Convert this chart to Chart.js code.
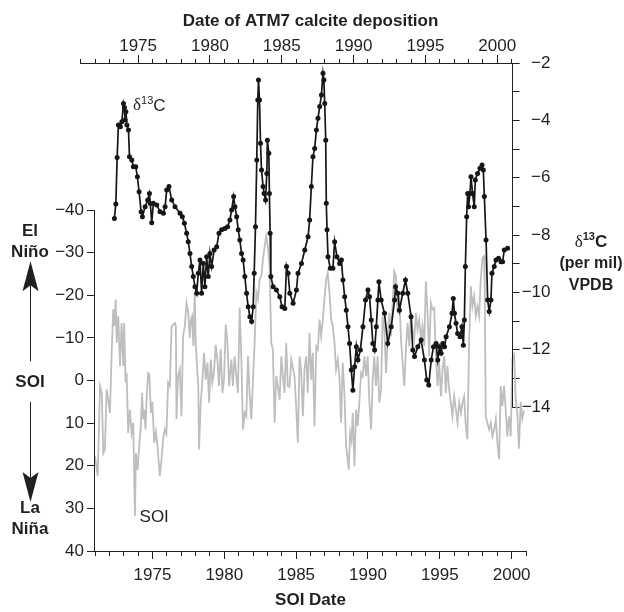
<!DOCTYPE html>
<html lang="en">
<head>
<meta charset="utf-8">
<title>ATM7 d13C and SOI</title>
<script src="https://cdn.jsdelivr.net/npm/chart.js@4.4.1/dist/chart.umd.min.js"></script>
<style>
  * { margin: 0; padding: 0; box-sizing: border-box; }
  body { width: 624px; height: 612px; background: #fff; overflow: hidden; }
  #wrap { position: relative; width: 624px; height: 612px; }
</style>
</head>
<body>
<div id="wrap"><canvas id="chart" width="624" height="612"></canvas></div>
<script>
// d13C of ATM7 calcite, against date of deposition (top axis, right scale)
const d13cYear = [
  1973.35, 1973.45, 1973.54, 1973.63, 1973.77, 1973.87, 1973.98, 1974.05, 1974.10, 1974.15,
  1974.22, 1974.33, 1974.40, 1974.56, 1974.67, 1974.84, 1974.95, 1975.07, 1975.21, 1975.30,
  1975.49, 1975.67, 1975.79, 1975.85, 1975.95, 1976.06, 1976.30, 1976.53, 1976.76, 1976.88,
  1976.99, 1977.15, 1977.34, 1977.57, 1977.92, 1978.08, 1978.22, 1978.38, 1978.49, 1978.61,
  1978.73, 1978.84, 1978.96, 1979.08, 1979.19, 1979.31, 1979.42, 1979.54, 1979.65, 1979.77,
  1979.88, 1980.00, 1980.12, 1980.29, 1980.47, 1980.63, 1980.81, 1981.04, 1981.23, 1981.39,
  1981.51, 1981.65, 1981.74, 1981.86, 1981.97, 1982.08, 1982.20, 1982.31, 1982.43, 1982.55,
  1982.66, 1982.78, 1982.90, 1983.01, 1983.08, 1983.17, 1983.26, 1983.33, 1983.38, 1983.45,
  1983.52, 1983.59, 1983.70, 1983.77, 1983.87, 1983.96, 1984.00, 1984.10, 1984.14, 1984.19,
  1984.24, 1984.40, 1984.63, 1984.86, 1985.02, 1985.21, 1985.33, 1985.44, 1985.56, 1985.79,
  1986.02, 1986.13, 1986.37, 1986.60, 1986.83, 1986.94, 1987.06, 1987.17, 1987.29, 1987.41,
  1987.52, 1987.64, 1987.76, 1987.87, 1987.93, 1987.99, 1988.06, 1988.10, 1988.15, 1988.22,
  1988.38, 1988.56, 1988.68, 1988.84, 1989.03, 1989.15, 1989.26, 1989.38, 1989.49, 1989.61,
  1989.72, 1989.84, 1989.95, 1990.07, 1990.19, 1990.30, 1990.47, 1990.65, 1990.83, 1991.00,
  1991.11, 1991.23, 1991.34, 1991.46, 1991.58, 1991.69, 1991.76, 1991.92, 1992.15, 1992.38,
  1992.62, 1992.85, 1992.92, 1993.08, 1993.19, 1993.42, 1993.61, 1993.77, 1994.00, 1994.12,
  1994.24, 1994.47, 1994.70, 1994.93, 1995.09, 1995.23, 1995.40, 1995.56, 1995.74, 1995.86,
  1995.97, 1996.09, 1996.21, 1996.33, 1996.44, 1996.67, 1996.85, 1996.94, 1997.02, 1997.13,
  1997.24, 1997.41, 1997.54, 1997.64, 1997.71, 1997.78, 1997.87, 1997.94, 1998.00, 1998.10,
  1998.17, 1998.28, 1998.40, 1998.47, 1998.63, 1998.80, 1998.94, 1999.03, 1999.10, 1999.22,
  1999.33, 1999.44, 1999.56, 1999.63, 1999.79, 1999.91, 2000.09, 2000.26, 2000.37, 2000.49,
  2000.72
];
const d13cValue = [
  -7.42, -6.92, -5.30, -4.16, -4.22, -4.05, -3.41, -3.55, -3.99, -3.70,
  -4.16, -4.34, -5.27, -5.38, -5.62, -5.62, -5.97, -6.49, -7.19, -7.36,
  -7.01, -6.78, -6.55, -6.90, -7.57, -6.89, -6.95, -7.19, -7.24, -7.01,
  -6.43, -6.31, -6.78, -7.01, -7.24, -7.36, -7.59, -7.94, -8.23, -8.64,
  -9.10, -9.45, -9.80, -10.03, -9.33, -8.87, -10.03, -8.99, -9.80, -8.76,
  -9.45, -8.64, -9.10, -8.52, -8.41, -7.94, -7.82, -7.77, -7.71, -7.48,
  -7.13, -6.66, -7.01, -7.36, -7.82, -8.17, -8.64, -8.87, -9.45, -10.03,
  -10.50, -10.85, -11.02, -10.50, -9.33, -7.71, -5.38, -3.29, -2.59, -3.29,
  -4.80, -5.73, -6.31, -6.55, -6.78, -5.85, -4.69, -5.15, -6.55, -7.94,
  -9.45, -9.80, -9.92, -10.15, -10.50, -10.56, -9.10, -9.33, -10.03, -10.38,
  -9.92, -9.33, -8.99, -8.52, -8.06, -7.48, -6.31, -5.27, -4.98, -4.34,
  -3.93, -3.52, -3.12, -2.36, -2.59, -3.41, -4.69, -6.89, -7.82, -8.76,
  -9.16, -9.16, -8.23, -8.76, -8.99, -8.87, -9.57, -10.15, -10.62, -11.20,
  -11.78, -12.71, -13.41, -12.59, -11.90, -12.36, -12.01, -11.20, -10.27, -9.92,
  -10.15, -10.96, -11.78, -12.01, -11.20, -10.27, -9.63, -10.27, -10.73, -11.78,
  -11.20, -10.27, -9.80, -10.03, -10.62, -10.03, -9.57, -10.03, -10.85, -12.01,
  -12.24, -11.90, -11.66, -12.36, -13.06, -13.23, -12.36, -11.90, -11.78, -12.36,
  -11.90, -12.12, -11.78, -11.90, -11.55, -11.20, -10.73, -10.21, -10.73, -11.08,
  -11.43, -11.55, -11.20, -11.84, -10.96, -9.10, -7.36, -6.55, -7.01, -6.55,
  -5.97, -6.55, -7.01, -6.08, -5.85, -5.67, -5.56, -5.73, -6.66, -8.17,
  -10.27, -10.67, -10.27, -9.33, -9.10, -8.87, -8.81, -8.93, -8.93, -8.52,
  -8.46
];

// Southern Oscillation Index, against SOI date (bottom axis, left scale)
const soiYear = [
  1971.00, 1971.19, 1971.35, 1971.47, 1971.58, 1971.69, 1971.81, 1971.92, 1972.04, 1972.16,
  1972.27, 1972.34, 1972.44, 1972.51, 1972.62, 1972.74, 1972.85, 1972.97, 1973.03, 1973.13,
  1973.20, 1973.31, 1973.43, 1973.55, 1973.66, 1973.78, 1973.85, 1973.97, 1974.06, 1974.19,
  1974.28, 1974.35, 1974.42, 1974.52, 1974.59, 1974.70, 1974.78, 1974.89, 1974.99, 1975.12,
  1975.24, 1975.35, 1975.51, 1975.63, 1975.74, 1975.86, 1975.97, 1976.09, 1976.21, 1976.33,
  1976.44, 1976.56, 1976.63, 1976.67, 1976.78, 1976.90, 1977.02, 1977.13, 1977.25, 1977.37,
  1977.48, 1977.60, 1977.67, 1977.76, 1977.85, 1977.94, 1978.01, 1978.10, 1978.19, 1978.24,
  1978.36, 1978.45, 1978.59, 1978.71, 1978.83, 1978.94, 1979.06, 1979.17, 1979.28, 1979.40,
  1979.52, 1979.63, 1979.75, 1979.87, 1979.98, 1980.10, 1980.22, 1980.33, 1980.49, 1980.60,
  1980.72, 1980.84, 1980.95, 1981.07, 1981.19, 1981.30, 1981.42, 1981.53, 1981.65, 1981.76,
  1981.88, 1981.99, 1982.11, 1982.23, 1982.34, 1982.46, 1982.58, 1982.69, 1982.81, 1982.92,
  1983.03, 1983.15, 1983.27, 1983.38, 1983.50, 1983.62, 1983.73, 1983.85, 1983.97, 1984.08,
  1984.19, 1984.31, 1984.42, 1984.54, 1984.66, 1984.77, 1984.89, 1985.01, 1985.12, 1985.24,
  1985.35, 1985.47, 1985.58, 1985.70, 1985.81, 1985.93, 1986.05, 1986.16, 1986.28, 1986.40,
  1986.51, 1986.63, 1986.74, 1986.85, 1986.97, 1987.09, 1987.20, 1987.32, 1987.44, 1987.55,
  1987.67, 1987.78, 1987.90, 1988.01, 1988.13, 1988.24, 1988.36, 1988.48, 1988.59, 1988.66,
  1988.76, 1988.85, 1988.94, 1989.06, 1989.17, 1989.28, 1989.40, 1989.52, 1989.63, 1989.75,
  1989.87, 1989.98, 1990.10, 1990.22, 1990.33, 1990.44, 1990.56, 1990.67, 1990.79, 1990.91,
  1991.02, 1991.14, 1991.26, 1991.37, 1991.49, 1991.60, 1991.72, 1991.83, 1991.95, 1992.06,
  1992.18, 1992.30, 1992.41, 1992.53, 1992.65, 1992.76, 1992.88, 1992.99, 1993.10, 1993.22,
  1993.34, 1993.45, 1993.57, 1993.69, 1993.80, 1993.92, 1994.03, 1994.15, 1994.26, 1994.38,
  1994.49, 1994.61, 1994.73, 1994.84, 1994.96, 1995.08, 1995.19, 1995.31, 1995.42, 1995.53,
  1995.65, 1995.77, 1995.88, 1996.00, 1996.12, 1996.23, 1996.35, 1996.47, 1996.58, 1996.69,
  1996.81, 1996.92, 1997.04, 1997.16, 1997.27, 1997.39, 1997.51, 1997.62, 1997.74, 1997.85,
  1997.97, 1998.08, 1998.13, 1998.20, 1998.31, 1998.43, 1998.55, 1998.66, 1998.78, 1998.90,
  1999.01, 1999.13, 1999.24, 1999.35, 1999.47, 1999.59, 1999.70, 1999.82, 1999.94, 2000.05,
  2000.17, 2000.28, 2000.40, 2000.51, 2000.63, 2000.74, 2000.86
];
const soiValue = [
  17.8, 22.4, 1.3, 3.0, 17.0, 16.0, 2.1, 4.5, 7.6, -6.5,
  -16.7, -12.8, -19.0, -8.8, -15.1, -3.4, -13.5, -3.4, -13.5, 0.5,
  -1.8, 12.3, 6.8, 12.3, 9.9, 31.8, 17.0, 20.9, 16.2, 10.7,
  2.9, 9.1, 6.8, 11.5, 4.5, -1.8, -1.5, 7.6, 5.0, 14.6,
  12.0, 15.4, 22.4, 18.5, 13.8, 11.5, 12.5, 0.5, 1.3, -12.7,
  -13.1, -13.5, -12.7, 9.1, -1.0, -2.6, 8.4, -10.4, -12.7, -18.2,
  -16.2, -10.0, -14.3, -15.1, -8.1, -20.6, -8.8, -3.4, 1.3, 16.2,
  5.2, 1.3, -6.5, -0.2, -4.2, 5.2, -4.9, 0.5, -1.8, -8.4,
  -4.9, 1.3, -7.3, 2.9, -0.2, -13.1, -8.8, 1.3, -4.9, 1.3,
  -5.7, -1.0, 2.9, -17.1, -4.9, 11.5, 7.6, 8.4, -5.7, 2.9,
  9.1, 0.5, -8.8, -20.6, -19.0, -23.7, -24.5, -28.4, -31.5, -33.9,
  -31.5, -27.0, -8.8, -7.3, 9.9, -1.0, 1.3, 4.5, -5.7, -1.0,
  2.9, -8.8, 1.3, 1.5, -4.9, -3.0, -1.0, 6.8, 14.6, -5.7,
  -2.0, 8.4, -2.6, -5.7, 2.9, -11.2, -0.2, -6.5, 10.7, -8.0,
  -7.3, -14.3, -10.4, -13.9, -19.0, -23.7, -25.3, -20.6, -14.3, -12.7,
  -8.8, -2.6, -4.9, -1.0, 9.9, -4.2, 2.9, 15.4, 18.5, 20.9,
  12.3, 14.0, 7.6, 20.1, 6.8, 10.7, 5.2, -1.8, -1.0, -5.7,
  -1.0, -5.7, 5.2, 11.5, -0.2, -5.7, 1.3, -5.7, 5.2, 2.1,
  -15.1, -11.9, -1.8, -9.6, -15.9, -10.4, -18.2, -25.6, -24.5, -15.9,
  -19.8, -9.6, -4.2, 1.3, -8.0, -13.5, -8.0, -15.9, -12.0, -9.6,
  -15.9, -12.0, -14.3, -9.6, -12.7, -8.0, -23.3, -15.9, -5.7, -18.2,
  -16.7, -17.0, -5.7, 1.3, -4.2, 3.7, -2.6, -5.7, 2.9, -3.4,
  2.1, 5.2, 8.4, 3.7, 6.8, 9.9, 5.2, 7.6, 5.2, 3.7,
  10.7, 13.8, -8.8, -22.1, -17.4, -19.8, -15.1, -17.4, -15.1, -23.7,
  -28.8, -29.2, -19.8, 8.4, 9.9, 11.5, 9.9, 13.1, 11.5, 9.1,
  14.6, 18.5, 1.3, 6.0, 1.3, 6.8, 13.1, 8.4, 13.1, -5.0,
  -6.0, 4.0, 8.0, 16.0, 5.0, 9.0, 7.0
];

// axis ranges and tick values
const soiDateRange = [1971, 2001];
const depositDateRange = [1972, 2002];
const depositAxisFrom = 1971;     // top axis line starts at this deposition year
const yearMajorTicks = [1975, 1980, 1985, 1990, 1995, 2000];
const soiRange = [-74.5, 40];
const soiTicks = [-40, -30, -20, -10, 0, 10, 20, 30, 40];
const d13cRange = [-19.02, -2];
const d13cTicks = [-14, -13, -12, -11, -10, -9, -8, -7, -6, -5, -4, -3, -2];
const rightAxisAtSoiYear = 2000;

const ink = "#231f20";
const soiGrey = "#bcbec0";
const FONT = "'Liberation Sans', Arial, Helvetica, sans-serif";
const SERIF = "'Liberation Serif', 'DejaVu Serif', serif";

Chart.defaults.font.family = FONT;
Chart.defaults.font.size = 17;
Chart.defaults.color = ink;

const range = (a, b) => { const r = []; for (let v = a; v <= b; v++) r.push(v); return r; };
const setTicks = vals => (scale) => { scale.ticks = vals.map(v => ({ value: v })); };
const minusLabel = v => (v < 0 ? "\u2212" + Math.abs(v) : String(v));

// right axis sits at year 2000 of the SOI date axis; the top minor ticks and
// top axis line run from 1971 deposition year to that right axis
const moveAxes = {
  id: "moveAxes",
  afterLayout(chart) {
    const { ctx, scales: { x, x2, x2m, y2 } } = chart;
    const ax = x.getPixelForValue(rightAxisAtSoiYear);
    ctx.save();
    ctx.font = "17px " + FONT;
    const widest = Math.max(...d13cTicks.map(v => ctx.measureText(minusLabel(v)).width));
    ctx.restore();
    const tl = y2.options.grid.tickLength, pad = y2.options.ticks.padding;
    y2.left = ax;
    y2.right = ax + tl + pad + widest;

    x2m.left = x2.getPixelForValue(depositAxisFrom);
    x2m.right = ax;
    x2m.min = depositAxisFrom;
    x2m.max = x2.getValueForPixel(ax);
    x2m.configure();
  }
};

function arrow(ctx, x, yFrom, yTo) {
  const dir = yTo < yFrom ? -1 : 1;
  const headLen = 30, half = 8, notch = 6;
  const base = yTo - dir * headLen;
  ctx.beginPath();
  ctx.moveTo(x + 0.5, yFrom);
  ctx.lineTo(x + 0.5, base + dir * notch);
  ctx.stroke();
  ctx.beginPath();
  ctx.moveTo(x + 0.5, yTo);
  ctx.lineTo(x + 0.5 + half, base);
  ctx.lineTo(x + 0.5, base + dir * notch);
  ctx.lineTo(x + 0.5 - half, base);
  ctx.closePath();
  ctx.fill();
}

function deltaLabel(ctx, x, y, bold, align) {
  const w = bold ? "bold " : "";
  ctx.font = "17px " + SERIF;
  const dW = ctx.measureText("\u03b4").width;
  ctx.font = w + "11px " + FONT;
  const sW = ctx.measureText("13").width;
  ctx.font = w + "17px " + FONT;
  const cW = ctx.measureText("C").width;
  const x0 = align === "center" ? x - (dW + sW + cW) / 2 : x;
  ctx.textAlign = "left";
  ctx.textBaseline = "middle";
  ctx.font = "17px " + SERIF;
  ctx.fillText("\u03b4", x0, y);
  ctx.font = w + "11px " + FONT;
  ctx.fillText("13", x0 + dW, y - 5);
  ctx.font = w + "17px " + FONT;
  ctx.fillText("C", x0 + dW + sW, y);
}

const annotate = {
  id: "annotate",
  afterDraw(chart) {
    const { ctx, chartArea, scales: { x, y, x2, y2 } } = chart;
    ctx.save();
    ctx.strokeStyle = ink;
    ctx.fillStyle = ink;
    ctx.lineWidth = 1;

    // axis lines that only cover part of the plot height
    const lx = Math.round(chartArea.left) - 0.5;
    ctx.beginPath();
    ctx.moveTo(lx, y.getPixelForValue(-40));
    ctx.lineTo(lx, y.getPixelForValue(40));
    const rx = Math.round(y2.left) + 0.5;
    ctx.moveTo(rx, y2.getPixelForValue(-2));
    ctx.lineTo(rx, y2.getPixelForValue(-14));
    ctx.stroke();

    // SOI direction key on the left
    const kx = 30;
    ctx.font = "bold 17px " + FONT;
    ctx.textAlign = "center";
    ctx.textBaseline = "middle";
    ctx.fillText("El", kx, y.getPixelForValue(-35));
    ctx.fillText("Ni\u00f1o", kx, y.getPixelForValue(-30));
    ctx.fillText("SOI", kx, y.getPixelForValue(0) + 2);
    ctx.fillText("La", kx, y.getPixelForValue(30));
    ctx.fillText("Ni\u00f1a", kx, y.getPixelForValue(35));
    arrow(ctx, kx, y.getPixelForValue(-4.5), y.getPixelForValue(-28));
    arrow(ctx, kx, y.getPixelForValue(5), y.getPixelForValue(28.5));

    // right axis title
    const tx = 591;
    deltaLabel(ctx, tx, y2.getPixelForValue(-8.25), true, "center");
    ctx.font = "bold 16px " + FONT;
    ctx.textAlign = "center";
    ctx.fillText("(per mil)", tx, y2.getPixelForValue(-9.0));
    ctx.fillText("VPDB", tx, y2.getPixelForValue(-9.75));

    // series labels inside the plot
    deltaLabel(ctx, x2.getPixelForValue(1974.65), y2.getPixelForValue(-3.5), false, "left");
    ctx.font = "17px " + FONT;
    ctx.textAlign = "left";
    ctx.fillText("SOI", x.getPixelForValue(1974.1), y.getPixelForValue(32));
    ctx.restore();
  }
};

const d13cPoints = d13cYear.map((t, i) => ({ x: t, y: d13cValue[i] }));
const soiPoints = soiYear.map((t, i) => ({ x: t, y: soiValue[i] }));

const tickGrid = (len) => ({ drawOnChartArea: false, drawTicks: true, tickLength: len, tickColor: ink, tickWidth: 1, color: ink });

new Chart(document.getElementById("chart"), {
  type: "line",
  data: {
    datasets: [
      {
        label: "d13C",
        data: d13cPoints,
        xAxisID: "x2",
        yAxisID: "y2",
        borderColor: "#161616",
        backgroundColor: "#161616",
        borderWidth: 1.7,
        pointRadius: 2.5,
        pointBorderWidth: 0,
        tension: 0
      },
      {
        label: "SOI",
        data: soiPoints,
        xAxisID: "x",
        yAxisID: "y",
        borderColor: soiGrey,
        borderWidth: 1.8,
        pointRadius: 0,
        tension: 0
      }
    ]
  },
  options: {
    responsive: false,
    animation: false,
    devicePixelRatio: 1,
    layout: { padding: 0 },
    plugins: { legend: { display: false }, tooltip: { enabled: false } },
    scales: {
      x: {
        type: "linear", axis: "x", position: "bottom", weight: 1,
        min: soiDateRange[0], max: soiDateRange[1],
        afterBuildTicks: setTicks(yearMajorTicks),
        afterFit: s => { s.height = 61; },
        grid: tickGrid(8),
        border: { display: true, color: ink, width: 1 },
        ticks: { padding: 6, maxRotation: 0, autoSkip: false, callback: v => String(v) },
        title: { display: true, text: "SOI Date", font: { size: 17, weight: "bold" }, padding: { top: 0, bottom: 1 } }
      },
      xm: {
        type: "linear", axis: "x", position: "bottom", weight: 0,
        min: soiDateRange[0], max: soiDateRange[1],
        afterBuildTicks: setTicks(range(soiDateRange[0], soiDateRange[1])),
        afterFit: s => { s.height = 0; },
        grid: tickGrid(5),
        border: { display: false },
        ticks: { display: false }
      },
      x2: {
        type: "linear", axis: "x", position: "top", weight: 1,
        min: depositDateRange[0], max: depositDateRange[1],
        afterBuildTicks: setTicks(yearMajorTicks),
        afterFit: s => { s.height = 63; },
        grid: tickGrid(8),
        border: { display: false },
        ticks: { padding: -2, maxRotation: 0, autoSkip: false, callback: v => String(v) },
        title: { display: true, text: "Date of ATM7 calcite deposition", font: { size: 17, weight: "bold" }, padding: { top: 11, bottom: 0 } }
      },
      x2m: {
        type: "linear", axis: "x", position: "top", weight: 0,
        min: depositDateRange[0], max: depositDateRange[1],
        afterBuildTicks: setTicks(range(depositAxisFrom, depositDateRange[1] - 1)),
        afterFit: s => { s.height = 0; },
        grid: tickGrid(4),
        border: { display: true, color: ink, width: 1 },
        ticks: { display: false }
      },
      y: {
        type: "linear", axis: "y", position: "left", reverse: true,
        min: soiRange[0], max: soiRange[1],
        afterBuildTicks: setTicks(soiTicks),
        afterFit: s => { s.width = 95; },
        grid: tickGrid(8),
        border: { display: false },
        ticks: { padding: 3, autoSkip: false, callback: minusLabel }
      },
      y2: {
        type: "linear", axis: "y", position: "right",
        min: d13cRange[0], max: d13cRange[1],
        afterBuildTicks: setTicks(d13cTicks),
        afterFit: s => { s.width = 98; },
        grid: tickGrid(8),
        border: { display: false },
        ticks: {
          padding: 2, crossAlign: "far", autoSkip: false,
          callback: v => (v % 2 === 0 ? minusLabel(v) : "")
        }
      }
    }
  },
  plugins: [moveAxes, annotate]
});
</script>
</body>
</html>
